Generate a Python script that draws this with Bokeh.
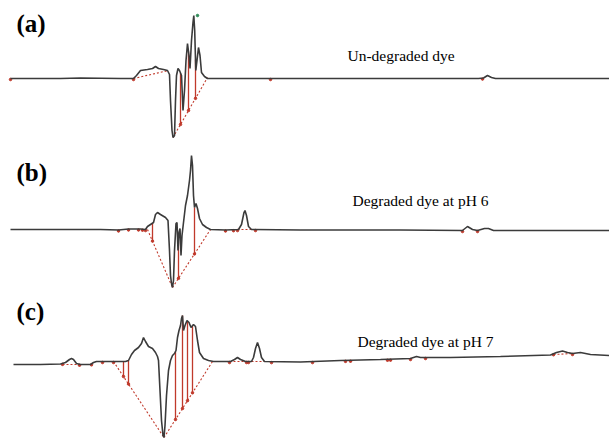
import numpy as np
from bokeh.plotting import figure
from bokeh.layouts import column
from bokeh.models import Range1d, Label
from bokeh.embed import file_html
from bokeh.resources import INLINE

# ---------------- data (retention position, detector signal) ----------------
# Panel (a) Un-degraded dye
x_a = [10, 60, 80, 120, 133, 136, 140, 147, 152, 155, 158, 163, 167, 169, 170, 171.5, 172.5, 174, 175,
       176, 177.5, 179, 181, 182.5, 184, 185.5, 187, 188.5, 189.5, 191, 192.5, 193.3, 194.2, 195.3,
       196.5, 198, 199.5, 201, 204, 207, 260, 300, 400, 478, 483, 487, 491, 495, 609]
y_a = [0, 0, 0.5, 0, 0, 3, 8, 9, 10, 12, 10, 9, 8, 4, -22, -52, -59, -57, -22,
       3, 10, 8, 3, -32, -12, 18, 35, 23, 10, 38, 56, 63, 48, 8,
       18, 31, 23, 6, 2, 0, 0, 0, 0, 0, 0.5, 3, 1, 0, 0]
base_a = [([133, 168], [0, 8]), ([172.5, 207], [-59, 1])]
drops_a = [180, 188, 195]
marks_a = [10, 133, 270, 482]

# Panel (b) Degraded dye at pH 6
x_b = [10, 100, 118, 128, 140, 145, 147, 150, 153, 155, 157, 160, 165, 167.5, 169, 170, 171, 172, 173,
       174, 175.5, 176.5, 177.5, 178.5, 179.5, 180.5, 181.5, 183, 185, 187, 189, 190, 191, 192, 193,
       194, 195.5, 197, 199, 202, 206, 210, 225, 238, 241, 243.5, 244.5, 246, 248, 251, 300, 400,
       462, 467, 472, 477, 484, 488, 493, 609]
y_b = [0, 0, -0.5, 0.5, 0.5, 0, 3, 5, 7, 15, 17, 15, 12, 9, -21, -46, -54, -58, -51,
       -21, 6, 7, -21, -3, 1, -26, -6, 7, 24, 34, 49, 59, 74, 64, 34,
       22, 26, 21, 11, 5, 2, 0, -0.5, 0, 5, 17, 19, 14, 3, 0, -0.5, -0.5,
       -1, 3, 0, -1, 1, 1, -1, -1]
base_b = [([147, 172], [0, -58]), ([172, 210], [-58, 0]), ([237, 255], [0, 0])]
drops_b = [152, 178, 194]
marks_b = [118, 128, 138, 142, 145, 225, 233, 237, 255, 462, 477]

# Panel (c) Degraded dye at pH 7
x_c = [13, 40, 60, 65, 69, 71, 73, 76, 80, 90, 93, 96, 100, 113, 125, 128, 131, 134, 138, 141,
       143, 145, 148, 152, 155, 157, 158, 159.5, 161, 162.5, 163.5, 164.5, 166, 168, 170, 172, 174,
       175.5, 177, 178.5, 180, 181, 182, 183, 184.5, 186.5, 188.5, 190.5, 193, 195, 197, 199, 203,
       208, 213, 230, 234, 237, 240, 245, 251, 253, 255, 257, 259, 261, 264, 300, 340, 380, 410,
       413, 416, 420, 450, 500, 550, 556, 562, 567, 572, 580, 590, 609]
y_c = [0, 0, 0.5, 2, 5, 6, 5, 1, 0, 0, 2, 3, 3, 3, 3, 4, 10, 14, 17, 21,
       27, 23, 18, 16, 12, 8, 4, -26, -56, -71, -73, -61, -31, -6, 4, 9, 11,
       14, 27, 34, 39, 46, 49, 34, 39, 44, 42, 37, 40, 38, 24, 12, 6,
       4, 3, 3, 5, 7, 5, 3, 3, 7, 16, 22, 16, 7, 3, 2.5, 4, 5, 6,
       7, 8, 7, 7, 8, 9.5, 12, 13.5, 12, 11, 12, 10, 9]
base_c = [([113, 163.5], [3, -73]), ([163.5, 212], [-73, 3]), ([62, 79], [0, 0]),
          ([229, 246], [3, 3]), ([251, 264], [3, 3]), ([553, 572], [10, 11])]
drops_c = [123, 128, 175, 182, 187, 192]
marks_c = [62, 79, 91, 102, 113, 229, 246, 248, 271, 312, 345, 350, 387, 390, 410, 425, 553, 572]

panel_tags = ["(a)", "(b)", "(c)"]
panel_titles = ["Un-degraded dye", "Degraded dye at pH 6", "Degraded dye at pH 7"]

# ---------------- styling ----------------
TRACE = "#3b3b3b"
RED = "#c0392b"
SERIF = "Liberation Serif"


def make_panel(x, y, bases, drops, marks, tag, title, h, ylo, yhi, tag_y, title_x, title_y):
    p = figure(width=609, height=h, x_range=Range1d(0, 609), y_range=Range1d(ylo, yhi),
               output_backend="svg", toolbar_location=None, x_axis_location=None,
               y_axis_location=None, min_border=0, outline_line_color=None,
               background_fill_color="white", border_fill_color="white")
    p.grid.visible = False
    x = np.array(x, float)
    y = np.array(y, float)
    # dashed integration baselines
    for bx, by in bases:
        p.line(bx, by, line_color=RED, line_width=1.1, line_dash="2 2")
    # drop lines from trace to baseline
    bx_all = np.concatenate([np.array(b[0], float) for b in bases[:2]])
    by_all = np.concatenate([np.array(b[1], float) for b in bases[:2]])
    order = np.argsort(bx_all, kind="stable")
    for d in drops:
        top = np.interp(d, x, y)
        bot = np.interp(d, bx_all[order], by_all[order])
        p.segment(x0=[d], y0=[top], x1=[d], y1=[bot], line_color=RED, line_width=1.3)
        p.scatter([d], [bot], size=2.5, color=RED)
    # small red peak markers
    mk = np.array(marks, float)
    p.scatter(mk, np.interp(mk, x, y) - 1, size=2.5, color=RED)
    # trace
    p.line(x, y, line_color=TRACE, line_width=1.6)
    p.add_layout(Label(x=16, y=tag_y, x_units="screen", y_units="screen", text=tag,
                       text_font=SERIF, text_font_style="bold", text_font_size="25px",
                       text_baseline="middle", text_color="black"))
    p.add_layout(Label(x=title_x, y=title_y, x_units="screen", y_units="screen", text=title,
                       text_font=SERIF, text_font_size="15.5px", text_baseline="alphabetic",
                       text_color="black"))
    return p


pa = make_panel(x_a, y_a, base_a, drops_a, marks_a, panel_tags[0], panel_titles[0],
                140, -62, 78, 117, 347, 85.5)
pa.scatter([197], [63], size=2.5, color="#2e8b57")
pb = make_panel(x_b, y_b, base_b, drops_b, marks_b, panel_tags[1], panel_titles[1],
                153, -64, 89, 121, 352, 93)
pc = make_panel(x_c, y_c, base_c, drops_c, marks_c, panel_tags[2], panel_titles[2],
                146, -75, 71, 128, 357, 98)

layout = column(pa, pb, pc, spacing=0)
open("out.html", "w").write(file_html(layout, INLINE))
